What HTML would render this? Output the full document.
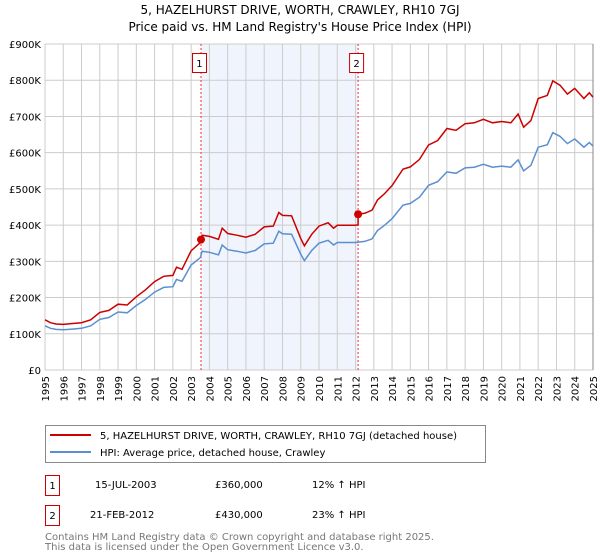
<!DOCTYPE html>
<html><head><meta charset="utf-8">
<style>
body{margin:0;background:#fff;font-family:"DejaVu Sans","Liberation Sans",sans-serif;}
svg{display:block}
text{font-family:"DejaVu Sans","Liberation Sans",sans-serif;}
</style></head>
<body>
<svg id="chart" width="600" height="560" viewBox="0 0 600 560">
<text x="300" y="14" text-anchor="middle" font-size="12" fill="#000">5, HAZELHURST DRIVE, WORTH, CRAWLEY, RH10 7GJ</text>
<text x="300" y="31" text-anchor="middle" font-size="12" fill="#000">Price paid vs. HM Land Registry's House Price Index (HPI)</text>
<g id="plot"></g>
<g>
<rect x="45.5" y="425.5" width="440" height="37" fill="#fff" stroke="#888"/>
<line x1="50" y1="435" x2="91" y2="435" stroke="#cc0000" stroke-width="2"/>
<text x="100" y="439" font-size="10">5, HAZELHURST DRIVE, WORTH, CRAWLEY, RH10 7GJ (detached house)</text>
<line x1="50" y1="452" x2="91" y2="452" stroke="#5b8fd0" stroke-width="2"/>
<text x="100" y="456" font-size="10">HPI: Average price, detached house, Crawley</text>
</g>
<g font-size="10">
<rect x="45.5" y="475.5" width="14" height="20" fill="#fff" stroke="#cc0000"/>
<text x="52.5" y="489" text-anchor="middle">1</text>
<text x="95" y="488">15-JUL-2003</text>
<text x="215" y="488">£360,000</text>
<text x="312" y="488">12% ↑ HPI</text>
<rect x="45.5" y="505.5" width="14" height="20" fill="#fff" stroke="#cc0000"/>
<text x="52.5" y="519" text-anchor="middle">2</text>
<text x="90" y="518">21-FEB-2012</text>
<text x="215" y="518">£430,000</text>
<text x="312" y="518">23% ↑ HPI</text>
</g>
<text x="45" y="540" font-size="10" fill="#777">Contains HM Land Registry data © Crown copyright and database right 2025.</text>
<text x="45" y="550" font-size="10" fill="#777">This data is licensed under the Open Government Licence v3.0.</text>
</svg>
<script>
const hpiYears=[1995,1995.3,1995.6,1996,1996.5,1997,1997.5,1998,1998.5,1999,1999.5,2000,2000.5,2001,2001.5,2002,2002.2,2002.5,2003,2003.5,2003.6,2004,2004.5,2004.7,2005,2005.5,2006,2006.5,2007,2007.5,2007.8,2008,2008.5,2009,2009.2,2009.6,2010,2010.5,2010.8,2011,2011.5,2012,2012.5,2012.9,2013.2,2013.6,2014,2014.6,2015,2015.5,2016,2016.5,2017,2017.5,2018,2018.5,2019,2019.5,2020,2020.5,2020.9,2021.2,2021.6,2022,2022.5,2022.8,2023.2,2023.6,2024,2024.5,2024.8,2025];
const hpiValues=[122,115,112,111,113,115,122,140,145,160,158,178,195,215,228,230,250,245,290,310,328,325,318,345,332,328,323,330,348,350,383,376,375,320,302,330,350,358,345,352,352,352,355,362,385,400,418,455,460,477,510,520,547,543,558,560,568,560,563,560,580,550,565,615,622,655,645,625,638,615,628,618];
const saleYears=[2003.54,2012.14];
const salePrices=[360,430];
const yTicks=[0,100,200,300,400,500,600,700,800,900];
const yTickLabels=["£0","£100K","£200K","£300K","£400K","£500K","£600K","£700K","£800K","£900K"];
const xTicks=[1995,1996,1997,1998,1999,2000,2001,2002,2003,2004,2005,2006,2007,2008,2009,2010,2011,2012,2013,2014,2015,2016,2017,2018,2019,2020,2021,2022,2023,2024,2025];

const X0=45,X1=593,Y0=370,Y1=44;
const sx=v=>X0+(v-1995)/30*(X1-X0);
const sy=v=>Y0-v/900*(Y0-Y1);
const NS="http://www.w3.org/2000/svg";
const g=document.getElementById('plot');
function mk(t,a){const e=document.createElementNS(NS,t);for(const k in a)e.setAttribute(k,a[k]);g.appendChild(e);return e;}
function hpiAt(x){for(let i=1;i<hpiYears.length;i++){if(x<=hpiYears[i]){const t=(x-hpiYears[i-1])/(hpiYears[i]-hpiYears[i-1]);return hpiValues[i-1]+t*(hpiValues[i]-hpiValues[i-1]);}}return hpiValues[hpiValues.length-1];}

let shade=mk('rect',{x:sx(saleYears[0]),y:Y1,width:sx(saleYears[1])-sx(saleYears[0]),height:Y0-Y1,fill:'#f0f4fc'});


xTicks.forEach(v=>{let l=mk('line',{x1:sx(v),x2:sx(v),y1:Y1,y2:Y0,stroke:'#ccc','stroke-width':1});


let t=mk('text',{x:0,y:0,'font-size':10,'text-anchor':'end',transform:`translate(${sx(v)+4},${Y0+6}) rotate(-90)`});t.textContent=v;

});
yTicks.forEach((v,i)=>{let l=mk('line',{x1:X0,x2:X1,y1:sy(v),y2:sy(v),stroke:'#ccc','stroke-width':1});


let t=mk('text',{x:X0-4,y:sy(v)+4,'font-size':10,'text-anchor':'end'});t.textContent=yTickLabels[i];

});
let rb=mk('line',{x1:X1,x2:X1,y1:Y1,y2:Y0,stroke:'#888','stroke-width':1});



saleYears.forEach((s,i)=>{let l=mk('line',{x1:sx(s),x2:sx(s),y1:Y1,y2:Y0,stroke:'#e33','stroke-width':1,'stroke-dasharray':'2,2'});


let r=mk('rect',{x:sx(s)-8.5,y:53.5,width:14,height:19,fill:'#fff',stroke:'#cc0000'});


let t=mk('text',{x:sx(s)-1.5,y:67,'font-size':10,'text-anchor':'middle'});t.textContent=i+1;

});

// HPI line
let hp=hpiYears.map((x,i)=>`${sx(x).toFixed(1)},${sy(hpiValues[i]).toFixed(1)}`).join(' ');
let hl=mk('polyline',{points:hp,fill:'none',stroke:'#5b8fd0','stroke-width':1.5});


// property line: indexed from sales by HPI
const ratios=saleYears.map((s,i)=>salePrices[i]/hpiAt(s));
let rp=hpiYears.map((x,i)=>{let r=x<saleYears[1]?ratios[0]:ratios[1];return `${sx(x).toFixed(1)},${sy(hpiValues[i]*r).toFixed(1)}`;});
// insert the jump at sale 2
let idx=hpiYears.findIndex(x=>x>=saleYears[1]);
rp.splice(idx,0,`${sx(saleYears[1]).toFixed(1)},${sy(hpiAt(saleYears[1])*ratios[0]).toFixed(1)}`,`${sx(saleYears[1]).toFixed(1)},${sy(salePrices[1]).toFixed(1)}`);
let pl=mk('polyline',{points:rp.join(' '),fill:'none',stroke:'#cc0000','stroke-width':1.5});


saleYears.forEach((s,i)=>{let c=mk('circle',{cx:sx(s),cy:sy(salePrices[i]),r:4,fill:'#cc0000'});

});
</script>
</body></html>
